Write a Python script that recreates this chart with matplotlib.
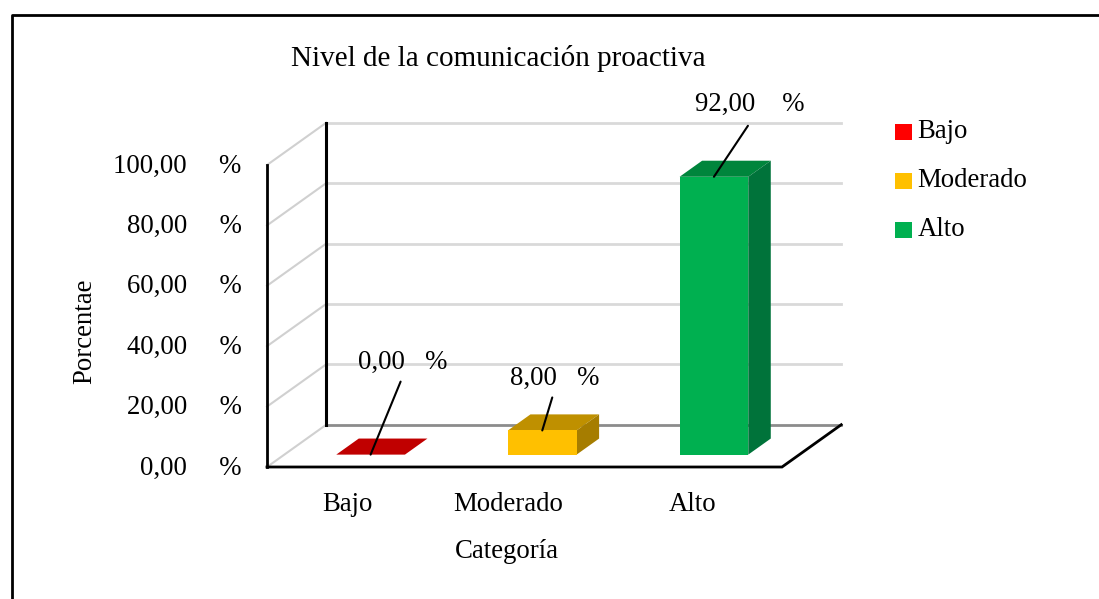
"""Nivel de la comunicacion proactiva: fake-3D column chart drawn on flat axes."""

import matplotlib
matplotlib.use("Agg")
import matplotlib.pyplot as plt
from matplotlib.legend_handler import HandlerPatch
from matplotlib.lines import Line2D
from matplotlib.patches import Patch, Polygon, Rectangle
from matplotlib.transforms import ScaledTranslation

categories = ["Bajo", "Moderado", "Alto"]
values = [0.0, 8.0, 92.0]
y_ticks = [0, 20, 40, 60, 80, 100]
value_labels = ["0,00   %", "8,00   %", "92,00    %"]
gap = "    \u2009"
tick_labels = [f"{t},00{gap}%" for t in ("0", "20", "40", "60", "80", "100")]
face_colors = ["#FF0000", "#FFC000", "#00B050"]
top_colors = ["#C00000", "#BF9000", "#00853C"]
side_colors = ["#A00000", "#A67D00", "#00733A"]

W, H = 1099, 599
# floor depth, expressed in axis units (one x unit = one category)
DX, DY = 0.345, 14.0
BAR_W = 0.40
BAR_START, BAR_DEPTH = 0.30, 0.38   # fraction of the floor depth
BAR_LIFT = 4.1                      # bar foot above the front floor edge

plt.rcParams["font.family"] = ["Liberation Serif", "DejaVu Serif"]
plt.rcParams["font.size"] = 19.3

fig = plt.figure(figsize=(W / 100, H / 100), dpi=100)
ax = fig.add_axes([267 / W, 1 - 467 / H, 515 / W, 302 / H])
ax.set_xlim(0, 3)
ax.set_ylim(0, 100)
for s in ax.spines.values():
    s.set_visible(False)
ax.patch.set_visible(False)


def proj(x, y, d=1.0):
    return x + DX * d, y + DY * d


def low_swatch(legend, orig_handle, xdescent, ydescent, width, height, fontsize):
    # legend squares sit lower against their text than matplotlib puts them
    return Rectangle((-xdescent, -ydescent - 3.6), width, height)


# back wall gridlines and their slanted side-wall partners
for t in y_ticks:
    bx, by = proj(0, t)
    ex, ey = proj(3, t)
    col = "#8c8c8c" if t == 0 else "#d9d9d9"
    ax.plot([bx, ex], [by, ey], color=col, lw=2, clip_on=False, zorder=1)
    ax.plot([0, bx], [t, by], color="#d0d0d0", lw=1.5, clip_on=False, zorder=1)

# axis lines: front and back verticals, floor outline
ax.plot([0, 0], [0, 100], color="black", lw=2, clip_on=False, zorder=2)
bx, by0 = proj(0, 0)
ax.plot([bx, bx], [by0, 100 + DY], color="black", lw=2.2, clip_on=False, zorder=2)
ex, ey = proj(3, 0)
ax.plot([0, 3, ex], [0, 0, ey], color="black", lw=2, clip_on=False, zorder=2,
        solid_joinstyle="miter")

# columns
for i, v in enumerate(values):
    x0 = i + 0.5 - BAR_W / 2 + DX * BAR_START
    x1 = x0 + BAR_W
    y0 = BAR_LIFT
    d = BAR_DEPTH
    p = lambda x, y: (x + DX * d, y + DY * d)
    top = y0 + v
    ax.add_patch(Polygon([(x0, top), (x1, top), p(x1, top), p(x0, top)],
                         fc=top_colors[i], ec="none", clip_on=False, zorder=3))
    if v > 0:
        ax.add_patch(Polygon([(x1, y0), p(x1, y0), p(x1, top), (x1, top)],
                             fc=side_colors[i], ec="none", clip_on=False, zorder=3))
        ax.bar(x0 + BAR_W / 2, v, BAR_W, bottom=y0, color=face_colors[i], zorder=4,
               clip_on=False)

# data labels with leader lines, offsets in pixels
label_offsets = [(32, 80), (12, 40), (36, 60)]
leader_ends = [(30, 73), (10, 33), (34, 51)]
for i, v in enumerate(values):
    xa = i + 0.5 + DX * BAR_START
    ya = BAR_LIFT + v
    ax.annotate(value_labels[i], (xa, ya), xytext=label_offsets[i], textcoords="offset pixels",
                ha="center", va="bottom", zorder=6, annotation_clip=False)
    ax.annotate("", (xa, ya), xytext=leader_ends[i], textcoords="offset pixels", zorder=6,
                arrowprops=dict(arrowstyle="-", color="black", lw=1.5, shrinkA=0, shrinkB=0),
                annotation_clip=False)

ax.set_yticks(y_ticks, tick_labels)
ax.tick_params(axis="y", length=0, pad=18.3)
# the tick texts sit a little above their gridline in the original
nudge = ScaledTranslation(0, 2 / fig.dpi, fig.dpi_scale_trans)
for lab in ax.get_yticklabels():
    lab.set_transform(lab.get_transform() + nudge)
ax.set_xticks([0.466, 1.405, 2.48], categories)
ax.tick_params(axis="x", length=0, pad=18.3)
ax.set_xlabel("Categoría")
ax.xaxis.set_label_coords(0.466, -0.237)
ax.set_ylabel("Porcentae")
ax.yaxis.set_label_coords(-0.33, 0.45)

fig.text(498 / W, 1 - 59 / H, "Nivel de la comunicación proactiva", ha="center", va="center",
         fontsize=21)

handles = [Patch(fc=c, ec="none") for c in face_colors]
fig.legend(handles, categories, loc="upper left", bbox_to_anchor=(895 / W, 1 - 119 / H),
           frameon=False, handlelength=0.64, handleheight=0.71, handletextpad=0.2,
           labelspacing=0.89, borderpad=0, borderaxespad=0,
           handler_map={Patch: HandlerPatch(patch_func=low_swatch, ypad=0.11)})

# outer frame of the pasted picture: open on the right and at the bottom
fig.add_artist(Line2D([12 / W, 12 / W, 1], [0, 1 - 15 / H, 1 - 15 / H], color="black", lw=2))

fig.savefig("out.png", dpi=100)
plt.close(fig)
